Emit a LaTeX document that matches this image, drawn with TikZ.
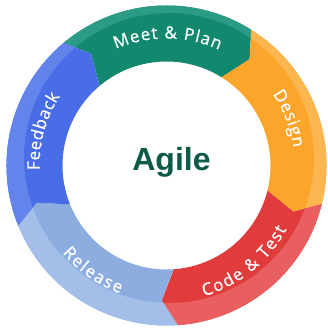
\documentclass[tikz,border=0pt]{standalone}
\usepackage{fontspec}
\setmainfont{Open Sans}
\newfontfamily\agilefont{Liberation Sans}
\newfontfamily\labfont[FakeBold=0.6]{Open Sans}
\usetikzlibrary{decorations.text}
\definecolor{tealM}{HTML}{12886F}
\definecolor{tealL}{HTML}{2C9B86}
\definecolor{orangeM}{HTML}{FBA52A}
\definecolor{orangeL}{HTML}{FCB650}
\definecolor{redM}{HTML}{E23B3B}
\definecolor{redL}{HTML}{E95E5E}
\definecolor{lblueM}{HTML}{8DADE0}
\definecolor{lblueL}{HTML}{A3BEE8}
\definecolor{blueM}{HTML}{486DE6}
\definecolor{blueL}{HTML}{6384EB}
\definecolor{agileC}{HTML}{0C5B47}
\tikzset{
  lab/.style={decorate, decoration={text along path, text color=white,
      text align=fit to path, text={|\labfont\fontsize{17}{20}\selectfont|#1}}}
}
\begin{document}
\begin{tikzpicture}
\useasboundingbox[fill=white] (-166.5pt,-162.5pt) rectangle (161.5pt,165.5pt);
\foreach \A/\B/\mc/\lc in {130/58/tealM/tealL, 58/-14/orangeM/orangeL, -14/-86/redM/redL, -86/-158/lblueM/lblueL, 202/130/blueM/blueL}{
  \begin{scope}
    \clip (\A:160pt) arc[start angle=\A, end angle=\B, radius=160pt]
      -- ({\B-6}:135pt) -- (\B:104pt)
      arc[start angle=\B, end angle=\A, radius=104pt]
      -- ({\A-6}:135pt) -- cycle;
    \fill[\mc] (0,0) circle (170pt);
    \fill[\lc, even odd rule] (0,0) circle (170pt) (2.5pt,7.5pt) circle (145pt);
  \end{scope}
}
\node[font=\agilefont\bfseries\fontsize{32}{32}\selectfont, text=agileC, anchor=base] (agile) at (5pt,-5.5pt) {Agile};
\path[lab={Meet {\&} Plan}] (113.5:127pt) arc[start angle=113.5, end angle=65.5, radius=127pt];
\path[lab={Design}] (34:128pt) arc[start angle=34, end angle=8, radius=128pt];
\path[lab={Code {\&} Test}] (-74:136pt) arc[start angle=-74, end angle=-28, radius=136pt];
\path[lab={Release}] (-140:136pt) arc[start angle=-140, end angle=-110, radius=136pt];
\path[lab={Feedback}] (182:127pt) arc[start angle=182, end angle=147, radius=127pt];
\end{tikzpicture}
\end{document}
